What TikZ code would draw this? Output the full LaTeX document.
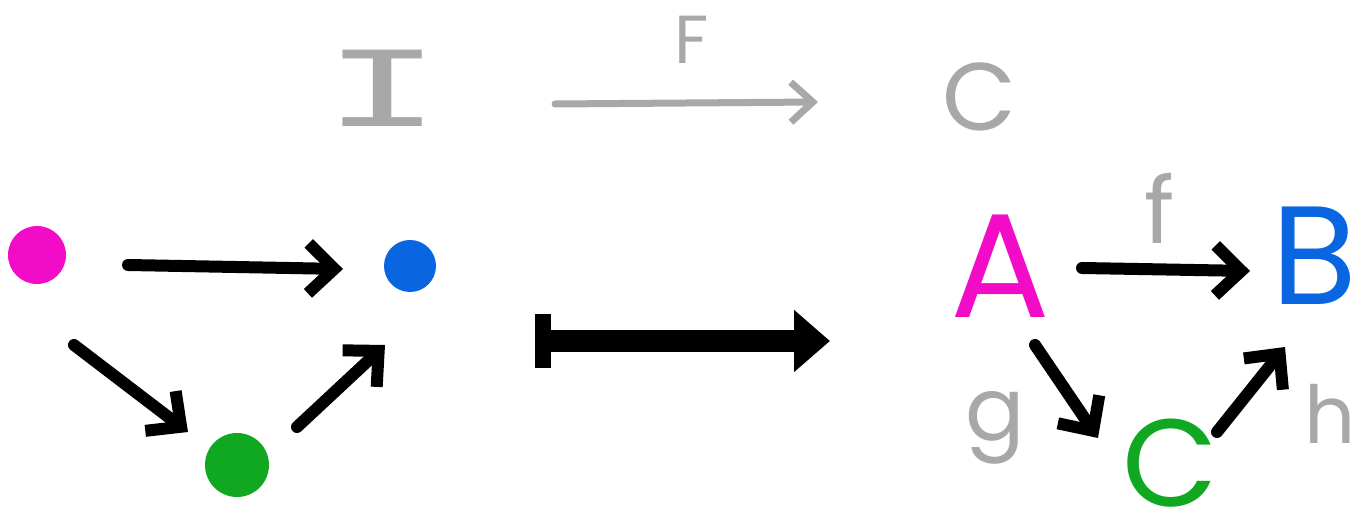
\documentclass[tikz,border=0pt]{standalone}
\usepackage{fontspec}
\setmainfont{Poppins}
\newfontfamily\monofam{Liberation Mono}
\usetikzlibrary{arrows.meta}
\definecolor{mag}{HTML}{F20CC8}
\definecolor{blu}{HTML}{0A66E0}
\definecolor{grn}{HTML}{10A820}
\definecolor{gry}{HTML}{A8A8A8}
\tikzset{
  dot/.style={circle,inner sep=0pt,minimum size=#1},
  lbl/.style={inner sep=0pt,text=gry},
  thinarr/.style={line width=6pt,line cap=round,-{Straight Barb[length=13pt,width=25pt,line width=6pt]}},
  greyarr/.style={gry,line width=3.5pt,line cap=round,-{Straight Barb[length=11pt,width=20pt,line width=3.5pt]}},
  bigarr/.style={line width=11pt,{Bar[width=27pt,line width=8pt]}-{Triangle[length=18pt,width=30pt]}},
}
\begin{document}
\begin{tikzpicture}[x=0.5pt,y=-0.5pt]
\useasboundingbox (0,0) rectangle (1356,523);
% top row
\node[lbl,font=\monofam\fontsize{58}{62}\selectfont,xscale=1.7] (I) at (383,88) {I};
\node[lbl,font=\fontsize{48}{52}\selectfont] (Ccat) at (980,97) {C};
\node[lbl,font=\fontsize{34}{38}\selectfont] (F) at (692,40) {F};
\draw[greyarr] (555,104) -- (818,102);
% left diagram
\node[dot=29pt,fill=mag] (p) at (37,255) {};
\node[dot=26pt,fill=blu] (q) at (410,266) {};
\node[dot=32pt,fill=grn] (r) at (237,465) {};
\draw[thinarr] (128,265) -- (343,269);
\draw[thinarr] (74,345) -- (188,432);
\draw[thinarr] (297,427) -- (385,345);
% big arrow
\draw[bigarr] (535,341) -- (830,341);
% right diagram
\node[inner sep=0pt,text=mag,font=\fontsize{74}{78}\selectfont] (A) at (1000,266) {A};
\node[inner sep=0pt,text=blu,font=\fontsize{70}{74}\selectfont] (B) at (1314,256) {B};
\node[inner sep=0pt,text=grn,font=\fontsize{62}{66}\selectfont] (C) at (1170,463) {C};
\node[lbl,font=\fontsize{46}{50}\selectfont] (f) at (1160,208) {f};
\node[lbl,font=\fontsize{44}{48}\selectfont] (g) at (995,428) {g};
\node[lbl,font=\fontsize{40}{44}\selectfont] (h) at (1330,414) {h};
\draw[thinarr] (1082,268) -- (1250,271);
\draw[thinarr] (1035,345) -- (1098,438);
\draw[thinarr] (1217,432) -- (1285,347);
\end{tikzpicture}
\end{document}
